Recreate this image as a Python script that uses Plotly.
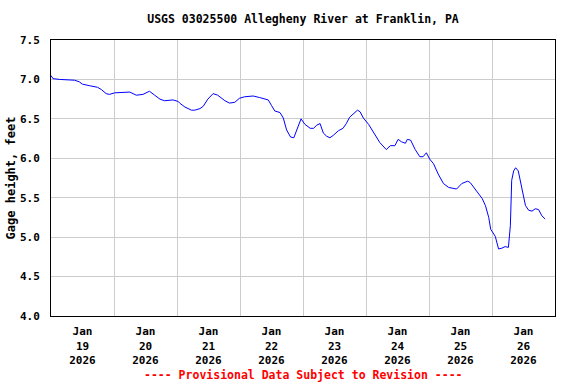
import plotly.graph_objects as go

times = [
    "2026-01-19 00:00", "2026-01-19 00:45", "2026-01-19 03:15", "2026-01-19 09:00", "2026-01-19 10:45",
    "2026-01-19 12:00", "2026-01-19 14:45", "2026-01-19 17:45", "2026-01-19 19:15", "2026-01-19 21:00",
    "2026-01-19 22:15", "2026-01-20 00:15", "2026-01-20 06:00", "2026-01-20 08:30", "2026-01-20 11:00",
    "2026-01-20 13:30", "2026-01-20 15:30", "2026-01-20 17:30", "2026-01-20 19:15", "2026-01-20 22:30",
    "2026-01-21 00:30", "2026-01-21 01:00", "2026-01-21 03:00", "2026-01-21 05:30", "2026-01-21 06:45",
    "2026-01-21 08:45", "2026-01-21 10:00", "2026-01-21 11:45", "2026-01-21 13:45", "2026-01-21 15:30",
    "2026-01-21 18:15", "2026-01-21 20:00", "2026-01-21 22:00", "2026-01-21 23:45", "2026-01-22 01:45",
    "2026-01-22 05:00", "2026-01-22 07:30", "2026-01-22 10:45", "2026-01-22 12:00", "2026-01-22 13:15",
    "2026-01-22 15:15", "2026-01-22 16:30", "2026-01-22 17:45", "2026-01-22 19:15", "2026-01-22 20:30",
    "2026-01-22 22:15", "2026-01-22 23:15", "2026-01-23 00:45", "2026-01-23 02:45", "2026-01-23 04:00",
    "2026-01-23 05:15", "2026-01-23 06:30", "2026-01-23 07:45", "2026-01-23 09:00", "2026-01-23 10:15",
    "2026-01-23 11:30", "2026-01-23 13:30", "2026-01-23 15:15", "2026-01-23 16:30", "2026-01-23 17:45",
    "2026-01-23 19:15", "2026-01-23 20:45", "2026-01-23 21:45", "2026-01-23 23:00", "2026-01-24 01:00",
    "2026-01-24 02:45", "2026-01-24 05:15", "2026-01-24 07:45", "2026-01-24 09:15", "2026-01-24 11:00",
    "2026-01-24 12:15", "2026-01-24 13:30", "2026-01-24 15:00", "2026-01-24 15:45", "2026-01-24 17:00",
    "2026-01-24 18:45", "2026-01-24 20:30", "2026-01-24 21:45", "2026-01-24 23:00", "2026-01-25 00:15",
    "2026-01-25 01:45", "2026-01-25 03:30", "2026-01-25 05:30", "2026-01-25 07:30", "2026-01-25 10:30",
    "2026-01-25 12:30", "2026-01-25 14:45", "2026-01-25 15:45", "2026-01-25 18:15", "2026-01-25 20:15",
    "2026-01-25 21:30", "2026-01-25 22:45", "2026-01-25 23:30", "2026-01-26 01:15", "2026-01-26 02:30",
    "2026-01-26 03:45", "2026-01-26 05:00", "2026-01-26 06:15", "2026-01-26 07:00", "2026-01-26 07:30",
    "2026-01-26 08:15", "2026-01-26 09:00", "2026-01-26 10:00", "2026-01-26 11:30", "2026-01-26 12:45",
    "2026-01-26 14:00", "2026-01-26 15:15", "2026-01-26 16:30", "2026-01-26 17:45", "2026-01-26 19:00",
    "2026-01-26 20:15",
]

gage_height = [
    7.05, 7.01, 7.00, 6.99, 6.97,
    6.94, 6.92, 6.90, 6.87, 6.82,
    6.81, 6.83, 6.84, 6.80, 6.81,
    6.85, 6.80, 6.75, 6.73, 6.74,
    6.72, 6.70, 6.65, 6.61, 6.61,
    6.63, 6.66, 6.75, 6.82, 6.80,
    6.73, 6.70, 6.71, 6.76, 6.78,
    6.79, 6.77, 6.74, 6.67, 6.60,
    6.58, 6.51, 6.36, 6.27, 6.26,
    6.41, 6.50, 6.43, 6.38, 6.38,
    6.42, 6.44, 6.32, 6.28, 6.26,
    6.29, 6.35, 6.38, 6.44, 6.52,
    6.57, 6.61, 6.59, 6.51, 6.43,
    6.34, 6.20, 6.11, 6.16, 6.16,
    6.24, 6.21, 6.19, 6.24, 6.23,
    6.11, 6.02, 6.02, 6.07, 5.99,
    5.93, 5.80, 5.68, 5.63, 5.61,
    5.68, 5.71, 5.69, 5.57, 5.49,
    5.40, 5.25, 5.10, 5.01, 4.85,
    4.86, 4.88, 4.87, 5.15, 5.72,
    5.84, 5.88, 5.84, 5.59, 5.40,
    5.34, 5.33, 5.36, 5.35, 5.27,
    5.23,
]

title_text = "USGS 03025500 Allegheny River at Franklin, PA"
y_title = "Gage height, feet"
footer_text = "---- Provisional Data Subject to Revision ----"
x_range = ["2026-01-19 00:00", "2026-01-27 00:00"]
y_range = [4.0, 7.5]

FONT = dict(family="DejaVu Sans Mono", size=11, color="black", weight="bold")
YFONT = dict(family="DejaVu Sans Mono", size=12, color="black", weight="bold")

fig = go.Figure()
fig.add_trace(go.Scatter(
    x=times, y=gage_height, mode="lines",
    line=dict(color="#0000ff", width=1),
    showlegend=False,
))

fig.update_layout(
    width=576, height=384,
    margin=dict(l=51, r=21, t=40, b=68, autoexpand=False),
    paper_bgcolor="white", plot_bgcolor="white",
    font=FONT,
    title=dict(text=title_text, x=0.5, xref="paper", xanchor="center",
               y=1 - 19 / 384, yref="container", yanchor="middle",
               font=dict(family="DejaVu Sans Mono", size=11.5, color="black", weight="bold")),
    showlegend=False,
)

fig.update_xaxes(
    type="date", range=x_range,
    tick0="2026-01-19", dtick=86400000,
    ticklabelmode="period", tickformat="%b<br>%d<br>%Y",
    showgrid=True, gridcolor="#cccccc", gridwidth=1,
    showline=True, mirror=True, linecolor="black", linewidth=1,
    ticks="", ticklabelstandoff=5,
    tickfont=FONT, automargin=False,
)

fig.update_yaxes(
    range=y_range, dtick=0.5, tick0=4.0, tickformat=".1f",
    showgrid=True, gridcolor="#cccccc", gridwidth=1,
    showline=True, mirror=True, linecolor="black", linewidth=1,
    ticks="", ticklabelstandoff=8,
    tickfont=FONT, automargin=False,
    title=dict(text=y_title, font=YFONT, standoff=1),
)

fig.add_annotation(
    text=footer_text, xref="paper", yref="paper", x=0.5, y=-(375 - 316) / 276,
    xanchor="center", yanchor="middle", showarrow=False,
    font=dict(family="DejaVu Sans Mono", size=11.5, color="#ff0000", weight="bold"),
)

fig.write_html(
    "out.html",
    config={"displayModeBar": False},
    post_script="document.body.style.margin='0';document.body.style.padding='0';",
)
